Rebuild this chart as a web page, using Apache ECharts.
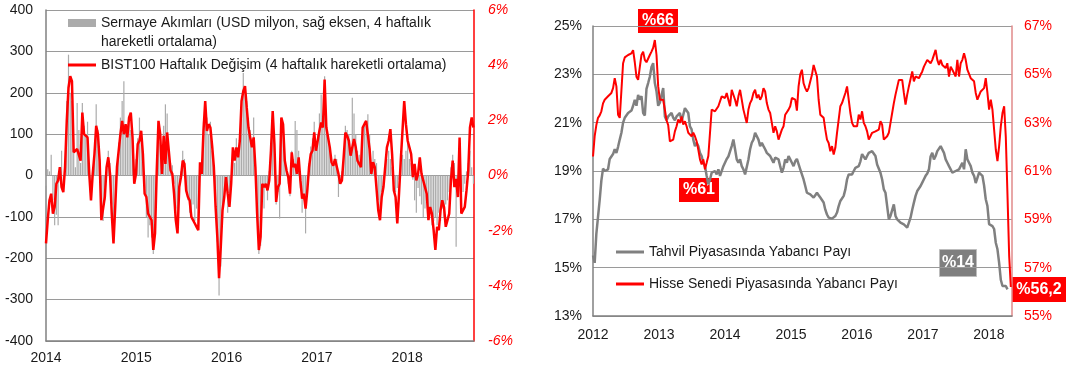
<!DOCTYPE html>
<html><head><meta charset="utf-8">
<script src="https://cdn.jsdelivr.net/npm/echarts@6/dist/echarts.min.js"></script>
<style>html,body{margin:0;padding:0;background:#fff}#c{width:1067px;height:372px}</style>
</head><body><div id="c"></div>
<script>
// ---------- Left chart: weekly data from first week of 2014 ----------
const flowYears = [2014, 2015, 2016, 2017, 2018];
const flowEndYear = 2018.74;
// Sermaye Akımları (USD milyon, 4 haftalık hareketli ortalama)
const capitalFlows = [
-25,15,10,50,-60,-120,-95,-120,15,60,-35,25,
180,292,200,180,60,20,175,110,30,175,120,100,130,
10,-30,15,40,172,110,40,-90,-110,-60,10,60,30,-70,-150,-60,30,80,140,180,228,120,100,130,110,70,-10,40,90,140,100,60,-30,-100,-150,-120,
-150,-190,-100,30,130,80,60,120,172,150,60,30,25,-20,-80,-100,-40,10,60,40,-40,-60,-90,-95,-70,-110,-80,-120,20,40,130,180,140,100,130,60,10,-60,-160,-290,-220,-100,-60,-20,-90,-70,-10,50,30,90,60,100,160,248,210,180,140,110,90,140,30,-100,
-190,-170,-50,-80,-30,-60,10,50,120,80,-70,-40,-104,110,100,40,20,-20,-50,60,40,132,110,60,-30,-90,-60,-140,-40,30,70,90,130,80,100,150,196,140,240,140,100,60,40,30,50,40,-52,-20,10,60,120,110,100,60,188,150,100,60,50,40,100,130,
120,148,100,30,60,40,30,-60,-80,-40,-20,10,40,60,40,20,-20,-40,-30,-10,30,50,40,60,100,40,30,-10,-60,-90,-30,-50,-70,-100,-80,-60,-100,-90,-120,-110,-100,-120,-90,-110,-80,-100,-70,-60,-40,20,50,30,-172,-40,60,-60,-40,-20,10,30,60,20,-20
];
// BIST100 Haftalık Değişim (%, 4 haftalık hareketli ortalama)
const bistChange = [
-2.46,-1.62,-0.9,-0.66,-1.38,-1.14,-0.3,-0.18,0.3,-0.42,-0.6,0.3,
1.98,3.18,3.6,3.42,0.84,0.9,0.96,1.02,0.54,2.28,1.5,1.56,1.38,
0.06,-0.9,0.06,0.78,1.8,1.5,0.54,-1.62,-1.62,-0.78,0.3,0.66,0.06,-1.38,-2.46,-1.14,0.3,0.9,1.5,1.98,1.5,1.86,1.38,2.1,2.28,1.38,-0.3,0.06,1.14,1.26,1.62,0.78,-0.66,-0.78,-1.38,-1.38,
-1.62,-2.7,-2.1,0.18,1.98,1.5,0.06,1.44,0.42,1.56,1.62,0.18,0.06,-0.66,-1.62,-2.1,-0.42,-0.06,0.54,0.42,-0.54,-0.78,-0.9,-1.5,-1.62,-1.74,-1.86,-1.98,0.48,0.06,1.62,2.7,1.62,1.86,1.74,1.08,0.3,-1.14,-2.22,-3.72,-2.58,-1.26,-0.78,-0.06,-0.66,-1.14,-0.3,1.02,0.54,1.02,0.66,1.26,2.7,3.06,3.24,2.46,1.74,1.38,1.02,1.38,0.3,-1.38,
-2.7,-2.22,-0.3,-0.42,-0.3,-0.54,-0.18,0.9,2.34,1.14,-0.96,-0.42,-0.3,2.1,1.86,0.54,0.18,-0.06,-0.66,0.84,0.3,0.42,0.06,0.66,-0.18,-0.84,-0.66,-1.2,-0.54,0.3,0.78,0.9,1.56,0.9,1.26,1.62,1.92,1.74,3.48,1.74,1.68,1.02,0.48,0.36,0.6,0.54,0.06,-0.3,-0.18,0.66,1.56,1.44,1.26,0.72,0.78,1.32,1.02,0.54,0.42,0.3,1.74,1.74,
1.98,2.04,0.96,0.06,0.48,0.3,0.3,-1.26,-1.62,-0.78,-0.42,0.3,1.02,1.26,1.68,0.78,-0.54,-0.78,-1.74,-0.66,0.54,1.62,2.7,1.86,1.26,1.02,0.78,-0.06,0.42,-0.18,0.06,0.66,0.06,-0.18,-0.42,-0.66,-1.62,-1.14,-1.38,-1.98,-2.7,-1.86,-1.98,-1.26,-0.9,-1.14,-1.86,-1.86,-1.38,-0.18,0.54,-0.42,-0.12,-0.78,1.38,-1.38,-1.38,-1.14,-0.54,0.18,1.74,2.1,1.74
];
const flowLeftTicks = [-400, 400, 100];
const flowRightTicks = [-6, 6, 2];

// ---------- Right chart: foreign share, sampled every ~9 days from 2012 ----------
const shareYears = [2012, 2013, 2014, 2015, 2016, 2017, 2018];
const shareEndYear = 2018.35;
const shareStepYears = 0.025329;
// Tahvil Piyasasında Yabancı Payı (%)
const bondShare = [
15.5,15.2,16.4,17.1,17.8,18.6,19.1,19.0,19.0,19.07,19.5,19.55,19.7,19.9,19.75,20.0,20.3,20.58,21.0,21.2,
21.26,21.4,21.33,21.5,21.7,21.95,21.7,22.15,21.95,22.1,21.4,21.3,22.4,22.64,22.9,23.3,23.46,22.64,22.3,21.7,
21.83,21.76,22.43,21.26,21.1,21.26,21.33,21.4,21.2,21.1,21.26,21.2,21.4,21.05,21.1,21.6,21.53,21.4,20.85,20.72,
20.3,20.03,20.17,20.03,19.75,19.62,19.34,19.2,18.8,18.45,18.65,18.93,18.86,19.0,18.86,19.07,18.8,18.86,19.2,19.27,
19.5,19.6,19.68,20.03,20.3,19.9,19.48,19.34,19.48,19.2,19.07,18.86,18.93,19.48,19.9,20.17,20.3,20.58,20.65,20.3,
20.03,20.17,20.03,19.9,19.75,19.82,19.62,19.48,19.34,19.55,19.48,19.48,19.2,18.93,19.13,19.48,19.34,19.62,19.48,19.34,
19.2,19.4,19.5,19.45,19.07,19.0,18.65,18.38,
18.1,18.05,18.03,17.95,17.9,18.0,18.1,18.0,17.9,17.8,17.7,17.4,17.2,17.07,17.14,17.03,17.07,17.14,17.28,17.55,
17.76,17.83,17.97,18.24,18.65,18.86,18.93,18.86,19.0,19.13,19.2,19.2,19.4,19.7,19.62,19.48,19.62,19.75,19.68,19.82,
19.82,19.62,19.27,19.2,18.93,18.65,18.24,18.1,17.55,17.0,17.14,17.2,17.62,17.14,17.0,16.93,16.86,16.93,16.79,16.72,
16.66,16.72,17.07,17.4,17.69,17.97,18.17,18.24,18.38,18.52,18.66,18.8,18.9,19.07,19.6,19.75,19.48,19.62,19.82,19.9,
20.03,19.96,19.75,19.48,19.34,19.2,19.07,18.93,18.86,19.0,18.93,19.07,19.13,19.34,19.07,19.9,19.48,19.34,19.2,18.93,
18.8,18.5,18.58,18.93,19.0,18.8,18.4,17.83,17.55,16.8,16.72,16.72,16.6,16.03,15.76,15.2,14.5,14.24,14.17,14.24,14.1
];
// Hisse Senedi Piyasasında Yabancı Payı (%)
const equityShare = [
61.6,62.44,62.9,63.2,63.3,63.47,63.8,63.95,64.0,64.09,64.15,64.23,64.43,64.84,64.5,63.33,63.2,63.26,65.46,65.7,
65.74,65.8,65.85,65.87,66.0,65.5,64.9,64.77,65.3,65.8,65.94,65.6,65.5,65.5,65.8,65.94,66.1,66.42,65.8,64.5,
63.95,63.88,63.95,63.54,63.1,62.9,62.23,62.25,62.3,62.64,62.85,63.13,62.99,63.26,62.92,63.06,62.85,62.58,62.64,62.44,
62.58,62.44,62.23,61.89,61.48,61.27,61.48,61.07,61.34,61.62,62.58,63.54,63.61,63.47,63.54,63.68,63.75,64.09,64.16,64.02,
64.23,63.95,63.68,64.36,64.43,63.95,63.68,64.09,64.36,63.95,63.54,63.26,62.99,63.54,63.81,63.95,64.23,64.36,64.02,64.16,
63.95,64.09,64.43,64.29,63.81,63.54,63.40,62.99,62.58,62.85,62.64,62.30,62.23,62.71,62.85,63.33,63.33,63.54,63.68,64.02,
64.02,63.95,63.5,64.5,65.0,65.19,64.63,64.43,64.29,64.43,64.36,64.98,65.39,65.32,64.91,63.95,63.33,63.26,63.20,62.71,
62.30,62.16,61.82,62.03,61.68,61.96,62.58,63.13,63.68,63.81,63.81,64.23,64.50,63.95,63.40,62.99,62.85,62.92,62.85,63.33,
63.13,63.47,62.99,62.85,62.64,62.30,62.44,62.58,62.6,62.64,62.58,62.71,63.06,62.92,62.30,62.30,62.44,62.58,62.99,63.40,
63.81,64.16,64.23,64.77,64.84,64.77,64.23,63.75,64.16,64.50,64.57,65.12,64.71,64.91,64.84,64.84,64.98,65.12,65.32,65.39,
65.60,65.67,65.46,65.60,65.67,66.01,65.60,65.39,65.60,65.39,65.39,65.26,65.46,64.91,65.32,65.19,65.12,64.91,65.60,64.91,
65.46,65.60,65.87,65.60,65.19,65.12,64.84,64.77,64.71,64.23,63.95,63.88,64.29,64.36,64.43,64.84,64.23,63.54,63.95,63.54,
62.71,61.89,61.41,62.03,62.85,63.40,63.68,62.4,60.0,57.5,56.2
];
const shareLeftTicks = [13, 25, 2];
const shareRightTicks = [55, 67, 2];
const callouts = ['%66', '%61', '%14', '%56,2'];

const NAMES = {
  flows: 'Sermaye Akımları (USD milyon, sağ eksen, 4 haftalık hareketli ortalama)',
  bist: 'BIST100 Haftalık Değişim (4 haftalık hareketli ortalama)',
  bond: 'Tahvil Piyasasında Yabancı Payı',
  equity: 'Hisse Senedi Piyasasında Yabancı Payı'
};

const FONT = "'Liberation Sans', Arial, sans-serif";
const FS = 14;
const TXT = '#1a1a1a';
const RED = '#ff0000';
const GRID = '#9a9a9a';
const AXIS = '#808080';

const flowX = i => flowYears[0] + i * 7 / 365.25;
const shareX = i => shareYears[0] + i * shareStepYears;
const yearFmt = v => (Math.abs(v - Math.round(v)) < 1e-6 ? String(Math.round(v)) : '');

const chart = echarts.init(document.getElementById('c'), null, { renderer: 'canvas' });
chart.setOption({
  animation: false,
  backgroundColor: '#fff',
  textStyle: { fontFamily: FONT },
  grid: [
    { left: 46, right: 593, top: 10, bottom: 31 },
    { left: 593, right: 55, top: 26, bottom: 56 }
  ],
  xAxis: [
    { type: 'value', gridIndex: 0, min: flowYears[0], max: flowEndYear, interval: 1,
      axisLine: { show: true, onZero: false, lineStyle: { color: AXIS, width: 1.5 } },
      axisTick: { show: false }, splitLine: { show: false },
      axisLabel: { color: TXT, fontSize: FS, fontFamily: FONT, margin: 10, formatter: yearFmt, showMaxLabel: false } },
    { type: 'value', gridIndex: 1, min: shareYears[0], max: shareEndYear, interval: 1,
      axisLine: { show: true, onZero: false, lineStyle: { color: AXIS, width: 1.5 } },
      axisTick: { show: false }, splitLine: { show: false },
      axisLabel: { color: TXT, fontSize: FS, fontFamily: FONT, margin: 12, formatter: yearFmt, showMaxLabel: false } }
  ],
  yAxis: [
    { type: 'value', gridIndex: 0, min: flowLeftTicks[0], max: flowLeftTicks[1], interval: flowLeftTicks[2],
      axisLine: { show: true, lineStyle: { color: AXIS, width: 1.5 } }, axisTick: { show: false },
      splitLine: { show: true, lineStyle: { color: GRID, width: 1 } },
      axisLabel: { color: TXT, fontSize: FS, fontFamily: FONT, margin: 13 } },
    { type: 'value', gridIndex: 0, position: 'right', min: flowRightTicks[0], max: flowRightTicks[1], interval: flowRightTicks[2],
      axisLine: { show: true, lineStyle: { color: RED, width: 1.5 } }, axisTick: { show: false },
      splitLine: { show: false },
      axisLabel: { color: RED, fontSize: FS, fontStyle: 'italic', fontFamily: FONT, margin: 14, formatter: '{value}%' } },
    { type: 'value', gridIndex: 1, min: shareLeftTicks[0], max: shareLeftTicks[1], interval: shareLeftTicks[2],
      axisLine: { show: true, lineStyle: { color: AXIS, width: 1.5 } }, axisTick: { show: false },
      splitLine: { show: true, lineStyle: { color: GRID, width: 1 } },
      axisLabel: { color: TXT, fontSize: FS, fontFamily: FONT, margin: 11, formatter: '{value}%' } },
    { type: 'value', gridIndex: 1, position: 'right', min: shareRightTicks[0], max: shareRightTicks[1], interval: shareRightTicks[2],
      axisLine: { show: true, lineStyle: { color: '#e08a8a', width: 1.5 } }, axisTick: { show: false },
      splitLine: { show: false },
      axisLabel: { color: RED, fontSize: FS, fontFamily: FONT, margin: 12, formatter: '{value}%' } }
  ],
  legend: [
    { data: [NAMES.flows], left: 68, top: 16, padding: 0, itemWidth: 28, itemHeight: 8, icon: 'rect',
      formatter: n => n.replace(' hareketli ortalama)', ''),
      textStyle: { color: TXT, fontSize: FS, fontFamily: FONT } },
    { data: [NAMES.bist], left: 68, top: 58, padding: 0, itemWidth: 28, itemHeight: 3, icon: 'rect',
      textStyle: { color: TXT, fontSize: FS, fontFamily: FONT } },
    { data: [NAMES.bond, NAMES.equity], orient: 'vertical', left: 616, top: 245, padding: 0, itemGap: 18,
      itemWidth: 28, itemHeight: 3, icon: 'rect',
      textStyle: { color: TXT, fontSize: FS, fontFamily: FONT } }
  ],
  graphic: [
    { type: 'text', left: 101, top: 35, silent: true,
      style: { text: 'hareketli ortalama)', fill: TXT, font: FS + 'px ' + FONT } },
    { type: 'group', left: 638, top: 9, children: [
      { type: 'rect', shape: { x: 0, y: 0, width: 40, height: 24 }, style: { fill: RED } },
      { type: 'text', x: 20, y: 12, style: { text: callouts[0], fill: '#fff', font: 'bold 16px ' + FONT, textAlign: 'center', textVerticalAlign: 'middle' } } ] },
    { type: 'group', left: 679, top: 178, children: [
      { type: 'rect', shape: { x: 0, y: 0, width: 40, height: 24 }, style: { fill: RED } },
      { type: 'text', x: 20, y: 12, style: { text: callouts[1], fill: '#fff', font: 'bold 16px ' + FONT, textAlign: 'center', textVerticalAlign: 'middle' } } ] },
    { type: 'group', left: 939, top: 249, children: [
      { type: 'rect', shape: { x: 0, y: 0, width: 37, height: 27 }, style: { fill: '#7f7f7f', stroke: '#bdbdbd', lineWidth: 1 } },
      { type: 'text', x: 18.5, y: 13.5, style: { text: callouts[2], fill: '#fff', font: 'bold 16px ' + FONT, textAlign: 'center', textVerticalAlign: 'middle' } } ] },
    { type: 'group', left: 1012, top: 277, children: [
      { type: 'rect', shape: { x: 0, y: 0, width: 54, height: 25 }, style: { fill: RED } },
      { type: 'text', x: 27, y: 12.5, style: { text: callouts[3], fill: '#fff', font: 'bold 16px ' + FONT, textAlign: 'center', textVerticalAlign: 'middle' } } ] }
  ],
  series: [
    { name: NAMES.flows, type: 'bar', xAxisIndex: 0, yAxisIndex: 0, barWidth: 1.2,
      itemStyle: { color: '#ababab' }, data: capitalFlows.map((v, i) => [flowX(i), v]), z: 1 },
    { name: NAMES.bist, type: 'line', xAxisIndex: 0, yAxisIndex: 1, symbol: 'none',
      lineStyle: { color: RED, width: 2.5 }, itemStyle: { color: RED },
      data: bistChange.map((v, i) => [flowX(i), v]), z: 3 },
    { name: NAMES.bond, type: 'line', xAxisIndex: 1, yAxisIndex: 2, symbol: 'none',
      lineStyle: { color: '#808080', width: 2.5 }, itemStyle: { color: '#808080' },
      data: bondShare.map((v, i) => [shareX(i), v]), z: 2 },
    { name: NAMES.equity, type: 'line', xAxisIndex: 1, yAxisIndex: 3, symbol: 'none',
      lineStyle: { color: RED, width: 2 }, itemStyle: { color: RED },
      data: equityShare.map((v, i) => [shareX(i), v]), z: 3 }
  ]
});
</script></body></html>
